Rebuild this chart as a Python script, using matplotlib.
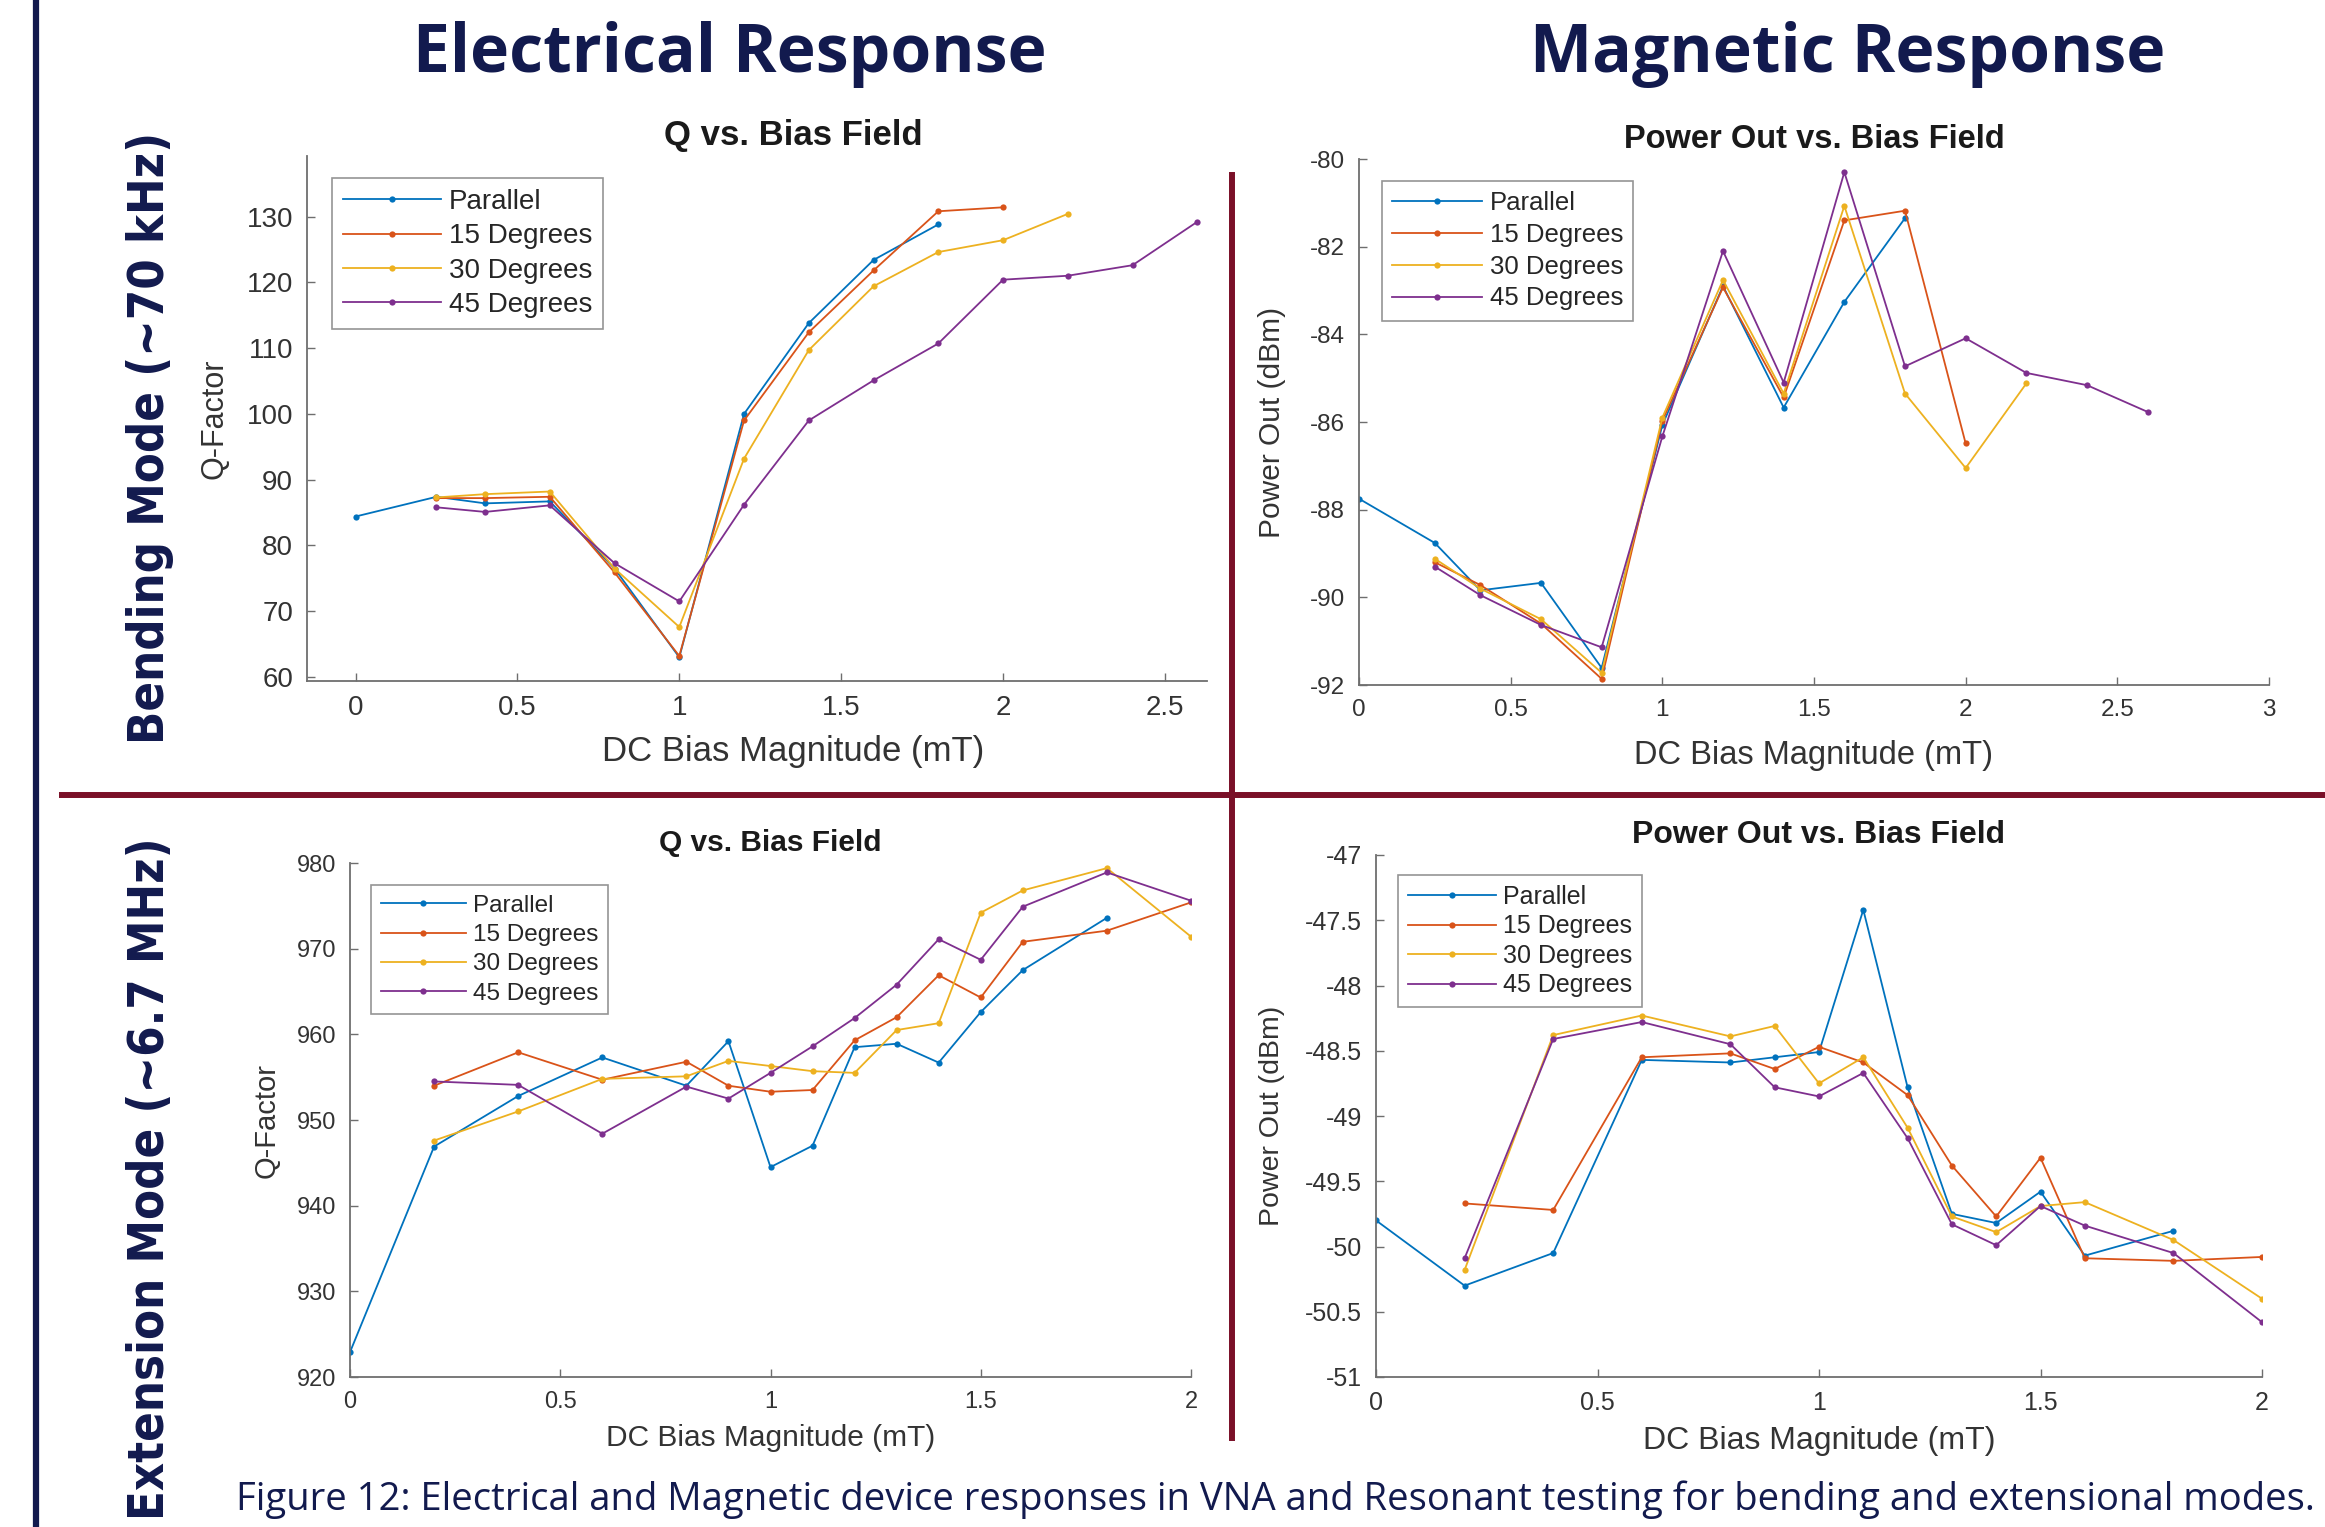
import numpy as np
import matplotlib
matplotlib.use('Agg')
import matplotlib.pyplot as plt
from matplotlib.lines import Line2D

W, H = 2325, 1527
NAVY = '#121a4e'
MAROON = '#7a1028'

series_names = ['Parallel', '15 Degrees', '30 Degrees', '45 Degrees']
series_colors = ['#0072BD', '#D95319', '#EDB120', '#7E2F8E']

# Bending mode (~70 kHz), Q-factor
bend_q_par_x = [0, 0.25, 0.4, 0.6, 0.8, 1.0, 1.2, 1.4, 1.6, 1.8]
bend_q_par = [84.4, 87.4, 86.4, 86.7, 76.5, 63.0, 100.0, 113.8, 123.4, 128.8]
bend_q_15_x = [0.25, 0.4, 0.6, 0.8, 1.0, 1.2, 1.4, 1.6, 1.8, 2.0]
bend_q_15 = [87.2, 87.2, 87.4, 75.9, 63.2, 99.0, 112.4, 121.8, 130.8, 131.4]
bend_q_30_x = [0.25, 0.4, 0.6, 0.8, 1.0, 1.2, 1.4, 1.6, 1.8, 2.0, 2.2]
bend_q_30 = [87.3, 87.8, 88.2, 76.5, 67.6, 93.2, 109.7, 119.4, 124.6, 126.4, 130.4]
bend_q_45_x = [0.25, 0.4, 0.6, 0.8, 1.0, 1.2, 1.4, 1.6, 1.8, 2.0, 2.2, 2.4, 2.6]
bend_q_45 = [85.8, 85.1, 86.1, 77.3, 71.5, 86.2, 99.0, 105.1, 110.7, 120.4, 121.0, 122.6, 129.2]

# Bending mode, power out (dBm)
bend_p_par_x = [0, 0.25, 0.4, 0.6, 0.8, 1.0, 1.2, 1.4, 1.6, 1.8]
bend_p_par = [-87.75, -88.76, -89.84, -89.67, -91.61, -86.07, -82.9, -85.67, -83.26, -81.35]
bend_p_15_x = [0.25, 0.4, 0.6, 0.8, 1.0, 1.2, 1.4, 1.6, 1.8, 2.0]
bend_p_15 = [-89.2, -89.72, -90.6, -91.86, -85.97, -82.93, -85.44, -81.4, -81.18, -86.49]
bend_p_30_x = [0.25, 0.4, 0.6, 0.8, 1.0, 1.2, 1.4, 1.6, 1.8, 2.0, 2.2]
bend_p_30 = [-89.12, -89.8, -90.5, -91.72, -85.9, -82.76, -85.35, -81.07, -85.35, -87.05, -85.12]
bend_p_45_x = [0.25, 0.4, 0.6, 0.8, 1.0, 1.2, 1.4, 1.6, 1.8, 2.0, 2.2, 2.4, 2.6]
bend_p_45 = [-89.3, -89.95, -90.63, -91.14, -86.33, -82.1, -85.1, -80.3, -84.73, -84.09, -84.88, -85.16, -85.77]

# Extension mode (~6.7 MHz), Q-factor
ext_par_x = [0, 0.2, 0.4, 0.6, 0.8, 0.9, 1.0, 1.1, 1.2, 1.3, 1.4, 1.5, 1.6, 1.8]
ext_ang_x = [0.2, 0.4, 0.6, 0.8, 0.9, 1.0, 1.1, 1.2, 1.3, 1.4, 1.5, 1.6, 1.8, 2.0]
ext_q_par = [922.9, 946.9, 952.8, 957.3, 954.0, 959.2, 944.5, 947.0, 958.5, 958.9, 956.7, 962.6, 967.5, 973.6]
ext_q_15 = [954.0, 957.9, 954.7, 956.8, 954.0, 953.3, 953.5, 959.3, 962.0, 966.9, 964.3, 970.8, 972.1, 975.4]
ext_q_30 = [947.6, 951.0, 954.8, 955.1, 956.9, 956.3, 955.7, 955.5, 960.5, 961.3, 974.2, 976.8, 979.4, 971.4]
ext_q_45 = [954.5, 954.1, 948.4, 953.9, 952.5, 955.5, 958.6, 961.9, 965.8, 971.1, 968.7, 974.9, 978.9, 975.6]

# Extension mode, power out (dBm)
ext_p_par = [-49.80, -50.30, -50.05, -48.57, -48.59, -48.55, -48.51, -47.42, -48.78, -49.75, -49.82, -49.58, -50.07, -49.88]
ext_p_15 = [-49.67, -49.72, -48.55, -48.52, -48.64, -48.47, -48.59, -48.84, -49.38, -49.77, -49.32, -50.09, -50.11, -50.08]
ext_p_30 = [-50.18, -48.38, -48.23, -48.39, -48.31, -48.75, -48.55, -49.09, -49.77, -49.89, -49.69, -49.66, -49.95, -50.40]
ext_p_45 = [-50.09, -48.41, -48.28, -48.45, -48.78, -48.85, -48.67, -49.17, -49.83, -49.99, -49.69, -49.84, -50.05, -50.58]

plt.rcParams['font.family'] = ['Liberation Sans', 'DejaVu Sans']


def px_rect(left, top, right, bottom):
    return [left / W, 1 - bottom / H, (right - left) / W, (bottom - top) / H]


def panel(fig, rect, xs, ys, xlim, ylim, xticks, yticks, title, ylabel,
          title_x, fs, title_fs, xl_fs, yl_fs, leg_xy, leg_fs, xl_off, yl_off,
          leg_space=0.3):
    ax = fig.add_axes(px_rect(*rect))
    w_px = rect[2] - rect[0]
    h_px = rect[3] - rect[1]
    for x, y, name, c in zip(xs, ys, series_names, series_colors):
        ax.plot(x, y, '-o', color=c, lw=1.3, ms=4.5, mew=0, label=name)
    ax.set_xlim(xlim)
    ax.set_ylim(ylim)
    ax.set_xticks(xticks)
    ax.set_yticks(yticks)
    ax.set_xticklabels(['%g' % t for t in xticks])
    ax.set_yticklabels(['%g' % t for t in yticks])
    for s in ['top', 'right']:
        ax.spines[s].set_visible(False)
    for s in ['left', 'bottom']:
        ax.spines[s].set_color('#6e6e6e')
        ax.spines[s].set_linewidth(1.3)
    ax.tick_params(direction='in', length=6, width=1.0, color='#6e6e6e',
                   labelsize=fs, labelcolor='#333333', pad=10)
    ax.text(title_x, 1 + 20 / h_px, title, transform=ax.transAxes, ha='center',
            va='center', fontsize=title_fs, fontweight='bold', color='#1a1a1a')
    ax.set_xlabel('DC Bias Magnitude (mT)', fontsize=xl_fs, color='#333333')
    ax.xaxis.set_label_coords(title_x, -xl_off / h_px)
    ax.xaxis.label.set_va('center')
    ax.set_ylabel(ylabel, fontsize=yl_fs, color='#333333')
    ax.yaxis.set_label_coords(-yl_off / w_px, 0.5)
    ax.yaxis.label.set_va('center')
    leg = ax.legend(loc='upper left', bbox_to_anchor=leg_xy, borderaxespad=0,
                    fontsize=leg_fs, frameon=True, fancybox=False,
                    handlelength=3.5, handletextpad=0.3, labelspacing=leg_space,
                    borderpad=0.4)
    leg.get_frame().set_edgecolor('#7a7a7a')
    leg.get_frame().set_linewidth(1.2)
    for t in leg.get_texts():
        t.set_color('#262626')
    return ax


fig = plt.figure(figsize=(W / 100, H / 100), dpi=100)
fig.patch.set_facecolor('white')

panel(fig, (307, 156, 1207, 681),
      [bend_q_par_x, bend_q_15_x, bend_q_30_x, bend_q_45_x],
      [bend_q_par, bend_q_15, bend_q_30, bend_q_45],
      (-0.15, 2.63), (59.4, 139.2), np.arange(0, 2.51, 0.5), np.arange(60, 131, 10),
      'Q vs. Bias Field', 'Q-Factor', 0.54, 20, 25, 25, 22, (0.028, 0.958), 20, 71, 93)

panel(fig, (1359, 159, 2269, 685),
      [bend_p_par_x, bend_p_15_x, bend_p_30_x, bend_p_45_x],
      [bend_p_par, bend_p_15, bend_p_30, bend_p_45],
      (0, 3), (-92, -80), np.arange(0, 3.01, 0.5), np.arange(-92, -79, 2),
      'Power Out vs. Bias Field', 'Power Out (dBm)', 0.5, 17.5, 23.5, 23.5, 21.5, (0.025, 0.958), 18.5, 70, 87)

panel(fig, (350, 863, 1191, 1377),
      [ext_par_x, ext_ang_x, ext_ang_x, ext_ang_x],
      [ext_q_par, ext_q_15, ext_q_30, ext_q_45],
      (0, 2), (920, 980), np.arange(0, 2.01, 0.5), np.arange(920, 981, 10),
      'Q vs. Bias Field', 'Q-Factor', 0.5, 17, 21.5, 21.5, 21, (0.025, 0.957), 17.5, 61, 83)

panel(fig, (1376, 855, 2262, 1377),
      [ext_par_x, ext_ang_x, ext_ang_x, ext_ang_x],
      [ext_p_par, ext_p_15, ext_p_30, ext_p_45],
      (0, 2), (-51, -47), np.arange(0, 2.01, 0.5), np.arange(-51, -46.9, 0.5),
      'Power Out vs. Bias Field', 'Power Out (dBm)', 0.5, 18, 23, 23, 20.5, (0.025, 0.962), 18, 64, 104,
      leg_space=0.22)

# frame lines of the slide
fig.add_artist(Line2D([35.5 / W] * 2, [0, 1], color=NAVY, lw=4.5))
fig.add_artist(Line2D([62 / W, 1], [1 - 795 / H] * 2, color=MAROON, lw=4.3))
fig.add_artist(Line2D([1232 / W] * 2, [1 - 175 / H, 1 - 1438 / H], color=MAROON, lw=4.3))

# column and row headings
head = dict(family=['Open Sans', 'DejaVu Sans'], fontweight='bold', color=NAVY,
            ha='center', va='center')
fig.text(730 / W, 1 - 55 / H, 'Electrical Response', fontsize=47.5, **head)
fig.text(1848 / W, 1 - 55 / H, 'Magnetic Response', fontsize=47.5, **head)

row = dict(family=['DejaVu Sans'], fontweight='bold', fontstretch='condensed',
           color=NAVY, ha='center', va='center', rotation=90)
fig.text(150 / W, 1 - 438 / H, 'Bending Mode (~70 kHz)', fontsize=35, **row)
fig.text(150 / W, 1 - 1179 / H, 'Extension Mode (~6.7 MHz)', fontsize=35, **row)

fig.text(1275 / W, 1 - 1500 / H,
         'Figure 12: Electrical and Magnetic device responses in VNA and Resonant '
         'testing for bending and extensional modes.',
         family=['Open Sans', 'DejaVu Sans'], fontsize=27.5, color=NAVY, ha='center', va='center')

fig.savefig('out.png', dpi=100)
